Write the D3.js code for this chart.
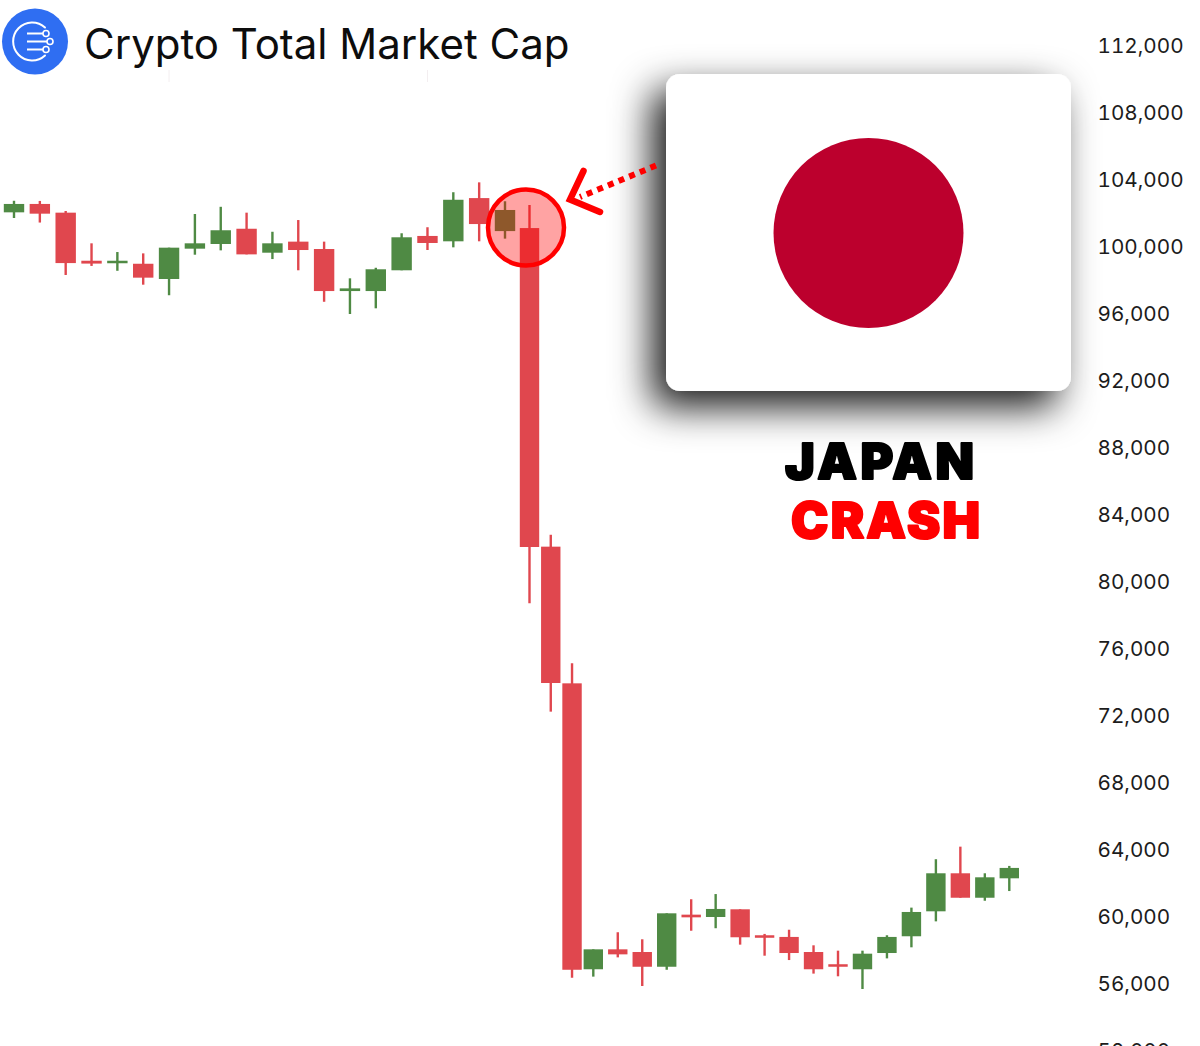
<!DOCTYPE html>
<html>
<head>
<meta charset="utf-8">
<script src="https://cdn.jsdelivr.net/npm/d3@7"></script>
<style>
   html, body { margin: 0; padding: 0; background: #ffffff; overflow: hidden; }
   svg { display: block; }
   text { font-family: Inter, "Noto Sans", sans-serif; }
</style>
</head>
<body>
<svg id="chart" width="1200" height="1046"></svg>
<script>
const titleText = 'Crypto Total Market Cap';
const yTicks = [112000, 108000, 104000, 100000, 96000, 92000, 88000, 84000, 80000, 76000, 72000, 68000, 64000, 60000, 56000, 52000];
const gridSessions = [6, 16];

// one entry per candle
const opens = [102040, 102540, 102020, 99150, 99000, 98970, 98060, 99870, 100150, 101060, 99630, 100290, 99850, 97340, 97340, 98580, 100630, 100310, 102890, 100920,
   101100, 82080, 73920, 56850, 58040, 57880, 57000, 60110, 59970, 60430, 58880, 58780, 57880, 57150, 56850, 57820, 58820, 60310, 62580, 61120, 62280];
const highs = [102730, 102720, 102120, 100190, 99670, 99590, 99930, 101940, 102370, 102020, 100880, 101580, 100290, 98100, 98730, 100790, 101150, 103240, 103830, 102700,
   102480, 82790, 75120, 58040, 59060, 58640, 60190, 61030, 61340, 60430, 58960, 59210, 58280, 57960, 57960, 58880, 60530, 63420, 64170, 62580, 63020];
const lows = [101700, 101430, 98300, 98840, 98550, 97720, 97090, 99510, 99770, 99530, 99250, 98580, 96700, 95970, 96310, 98580, 99790, 99950, 100310, 100470,
   78700, 72230, 56350, 56410, 57560, 55850, 56820, 59150, 59300, 58320, 57660, 57400, 56590, 56430, 55670, 57500, 58160, 59710, 61120, 60940, 61520];
const closes = [102540, 101960, 99010, 98980, 99150, 98140, 99930, 100190, 100970, 99530, 100190, 99790, 97340, 97500, 98640, 100550, 100210, 102790, 101340, 102180,
   82060, 73940, 56820, 58040, 57740, 57000, 60190, 59950, 60450, 58760, 58730, 57820, 56850, 57000, 57780, 58780, 60270, 62580, 61120, 62340, 62900];

const colorUp = '#4f8a44';
const colorDown = '#e0474e';

const svg = d3.select('#chart');
const candles = opens.map((open, i) => ({ i: i, open: open, high: highs[i], low: lows[i], close: closes[i] }));

// candles are not evenly spaced in the picture, the crash ones sit closer together
const x = d3.scaleLinear().domain([0, 19, 20, 23, 40]).range([14, 505, 529.5, 593.3, 1009.3]);
const y = d3.scaleLinear().domain([56000, 112000]).range([983.5, 45.5]);

const defs = svg.append('defs');
const shadow = defs.append('filter').attr('id', 'cardShadow')
   .attr('x', '-30%').attr('y', '-30%').attr('width', '160%').attr('height', '160%');
shadow.append('feDropShadow')
   .attr('dx', -14).attr('dy', 16).attr('stdDeviation', 19)
   .attr('flood-color', '#000000').attr('flood-opacity', 0.9);

// faint vertical grid stubs under the title
svg.selectAll('line.grid').data(gridSessions).enter().append('line')
   .attr('class', 'grid')
   .attr('x1', d => x(d)).attr('x2', d => x(d))
   .attr('y1', 70).attr('y2', 82)
   .style('stroke', '#f3eef0').style('stroke-width', 1);

// title and logo
const logo = svg.append('g').attr('transform', 'translate(35,41.5)');
logo.append('circle').attr('r', 33).style('fill', '#2f6ef2');
logo.append('path')
   .attr('d', 'M10,-14 A19,19 0 1 0 10,14')
   .style('fill', 'none').style('stroke', '#ffffff').style('stroke-width', 2).style('stroke-linecap', 'round');
[[-8, 11, -8], [0, 15, 0], [8, 11, 8]].forEach(r => {
   logo.append('line').attr('x1', -8).attr('x2', r[1] - 3).attr('y1', r[0]).attr('y2', r[2])
      .style('stroke', '#ffffff').style('stroke-width', 2);
   logo.append('circle').attr('cx', r[1]).attr('cy', r[2]).attr('r', 3)
      .style('fill', 'none').style('stroke', '#ffffff').style('stroke-width', 1.6);
});
svg.append('text').attr('x', 84).attr('y', 59)
   .style('font-size', '42px').style('fill', '#0d0d0d')
   .text(titleText);

// y axis
const yAxis = d3.axisRight(y).tickValues(yTicks).tickFormat(d3.format(',')).tickSize(0).tickPadding(0);
const axisG = svg.append('g').attr('transform', 'translate(1097.5,0.3)').call(yAxis);
axisG.select('.domain').remove();
axisG.selectAll('text')
   .style('font-family', 'Inter, "Noto Sans", sans-serif')
   .style('font-size', '20.7px')
   .style('font-variant-numeric', 'tabular-nums')
   .style('fill', '#1c1c1c');

// candles
const candle = svg.selectAll('g.candle').data(candles).enter().append('g').attr('class', 'candle');
const color = d => d.close >= d.open ? colorUp : colorDown;
const bodyWidth = d => d.i < 20 ? 20.4 : 19.4;

candle.append('line')
   .attr('x1', d => x(d.i)).attr('x2', d => x(d.i))
   .attr('y1', d => y(d.high)).attr('y2', d => y(d.low))
   .style('stroke', color).style('stroke-width', 2.4);
candle.append('rect')
   .attr('x', d => x(d.i) - bodyWidth(d) / 2)
   .attr('width', bodyWidth)
   .attr('y', d => y(Math.max(d.open, d.close)))
   .attr('height', d => Math.max(2.5, Math.abs(y(d.open) - y(d.close))))
   .style('fill', color);

// highlight ring and dotted arrow
svg.append('circle').attr('cx', 526).attr('cy', 227.5).attr('r', 38)
   .style('fill', 'rgba(255,0,0,0.36)').style('stroke', '#ff0000').style('stroke-width', 4.5);

// flag card
svg.append('rect').attr('x', 666).attr('y', 74).attr('width', 405).attr('height', 317).attr('rx', 14)
   .style('fill', '#ffffff').attr('filter', 'url(#cardShadow)');
svg.append('circle').attr('cx', 868.5).attr('cy', 233).attr('r', 95).style('fill', '#bc002d');

svg.append('line').attr('x1', 656).attr('y1', 165.5).attr('x2', 580).attr('y2', 197)
   .style('stroke', '#ff0000').style('stroke-width', 6).style('stroke-dasharray', '6 5.5');
svg.append('path').attr('d', 'M583.5,171 L570,199.5 L600,212')
   .style('fill', 'none').style('stroke', '#ff0000').style('stroke-width', 6.5)
   .style('stroke-linecap', 'round').style('stroke-linejoin', 'miter');

// headline
[['JAPAN', 784, 480, 191, '#000000'], ['CRASH', 790, 539, 191, '#ff0000']].forEach(t => {
   svg.append('text').attr('x', t[1] + 1).attr('y', t[2] - 1)
      .attr('textLength', t[3] - 2).attr('lengthAdjust', 'spacing')
      .style('font-family', 'Inter, Roboto, sans-serif')
      .style('font-weight', 900).style('font-size', '50px')
      .style('fill', t[4]).style('stroke', t[4]).style('stroke-width', 2)
      .style('stroke-linejoin', 'round')
      .text(t[0]);
});
</script>
</body>
</html>
